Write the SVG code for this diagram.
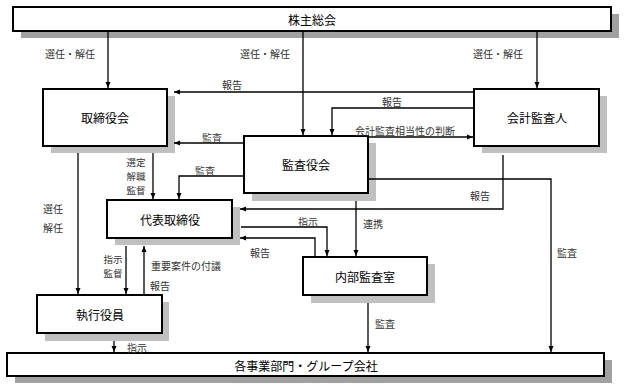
<svg xmlns="http://www.w3.org/2000/svg" width="624" height="390" viewBox="0 0 624 390">
<style>
.box{fill:#fff;stroke:#000;stroke-width:2}
.sh{fill:#c0c0c0}
.shd{fill:#a0a0a0}
.nt{font-family:"Noto Sans CJK JP","Noto Sans",sans-serif;font-size:12px;fill:#000;text-anchor:middle;dominant-baseline:central}
.lb{font-family:"Noto Sans CJK JP","Noto Sans",sans-serif;font-size:10px;fill:#333;text-anchor:middle;dominant-baseline:central}
.sm{font-size:9.5px}
.ln{fill:none;stroke:#000;stroke-width:1.3}
.ar{marker-end:url(#ah)}
</style>
<defs>
<marker id="ah" markerUnits="userSpaceOnUse" markerWidth="6" markerHeight="6" refX="6" refY="3" orient="auto">
<path d="M0,0.5 L6,3 L0,5.5 z" fill="#000"/>
</marker>
</defs>
<rect width="624" height="390" fill="#fff"/>

<g id="kabunushi">
<rect class="shd" x="21" y="14" width="598" height="24"/>
<rect class="box" x="13" y="7" width="598" height="24"/>
<text class="nt" x="312" y="19">株主総会</text>
</g>
<g id="torishimariyakukai">
<rect class="sh" x="51" y="96" width="124" height="57"/>
<rect class="box" x="43" y="89" width="124" height="57"/>
<text class="nt" x="105" y="117">取締役会</text>
</g>
<g id="kansayakukai">
<rect class="sh" x="252" y="143" width="124" height="58"/>
<rect class="box" x="244" y="136" width="124" height="57"/>
<text class="nt" x="306" y="164">監査役会</text>
</g>
<g id="kaikeikansanin">
<rect class="sh" x="482" y="96" width="125" height="57"/>
<rect class="box" x="474" y="89" width="125" height="57"/>
<text class="nt" x="537" y="117">会計監査人</text>
</g>
<g id="daihyo">
<rect class="sh" x="115" y="207" width="125" height="38"/>
<rect class="box" x="107" y="200" width="125" height="38"/>
<text class="nt" x="170" y="219">代表取締役</text>
</g>
<g id="naibu">
<rect class="sh" x="311" y="264" width="124" height="39"/>
<rect class="box" x="303" y="257" width="124" height="38"/>
<text class="nt" x="365" y="276">内部監査室</text>
</g>
<g id="shikko">
<rect class="sh" x="45" y="302" width="124" height="39"/>
<rect class="box" x="37" y="295" width="125" height="38"/>
<text class="nt" x="100" y="314">執行役員</text>
</g>
<g id="jigyo">
<rect class="shd" x="15" y="360" width="597" height="23"/>
<rect class="box" x="7" y="353" width="597" height="23"/>
<text class="nt" x="306" y="365">各事業部門・グループ会社</text>
</g>

<g id="connectors">
<path class="ln ar" d="M108,31 V88"/>
<path class="ln ar" d="M303,31 V135"/>
<path class="ln ar" d="M537,31 V88"/>
<path class="ln ar" d="M474,92 H174"/>
<path class="ln ar" d="M474,108 H332 V135"/>
<path class="ln ar" d="M368,137 H473"/>
<path class="ln ar" d="M244,143 H174"/>
<path class="ln ar" d="M244,176 H179 V199"/>
<path class="ln ar" d="M153,153 V199"/>
<path class="ln ar" d="M78,153 V294"/>
<path class="ln ar" d="M503,155 V209 H240"/>
<path class="ln ar" d="M241,227 H327 V256"/>
<path class="ln ar" d="M315,257 V238 H240"/>
<path class="ln ar" d="M356,201 V256"/>
<path class="ln ar" d="M368,179 H551 V352"/>
<path class="ln ar" d="M126,246 V294"/>
<path class="ln ar" d="M144,295 V246"/>
<path class="ln ar" d="M114,341 V352"/>
<path class="ln ar" d="M368,303 V352"/>
</g>

<g id="labels">
<text class="lb" x="70" y="53">選任・解任</text>
<text class="lb" x="265" y="53">選任・解任</text>
<text class="lb" x="498" y="53">選任・解任</text>
<text class="lb" x="232" y="84">報告</text>
<text class="lb" x="392" y="101">報告</text>
<text class="lb" x="405" y="130">会計監査相当性の判断</text>
<text class="lb" x="212" y="137">監査</text>
<text class="lb" x="205" y="170">監査</text>
<text class="lb sm" x="136" y="162">選定</text>
<text class="lb sm" x="136" y="176">解職</text>
<text class="lb sm" x="136" y="190">監督</text>
<text class="lb" x="53" y="208">選任</text>
<text class="lb" x="53" y="227">解任</text>
<text class="lb" x="480" y="195">報告</text>
<text class="lb" x="308" y="221">指示</text>
<text class="lb" x="373" y="223">連携</text>
<text class="lb" x="260" y="252">報告</text>
<text class="lb" x="567" y="252">監査</text>
<text class="lb sm" x="113" y="259">指示</text>
<text class="lb sm" x="113" y="273">監督</text>
<text class="lb" x="186" y="265">重要案件の付議</text>
<text class="lb" x="160" y="285">報告</text>
<text class="lb" x="137" y="347">指示</text>
<text class="lb" x="385" y="323">監査</text>
</g>
</svg>
